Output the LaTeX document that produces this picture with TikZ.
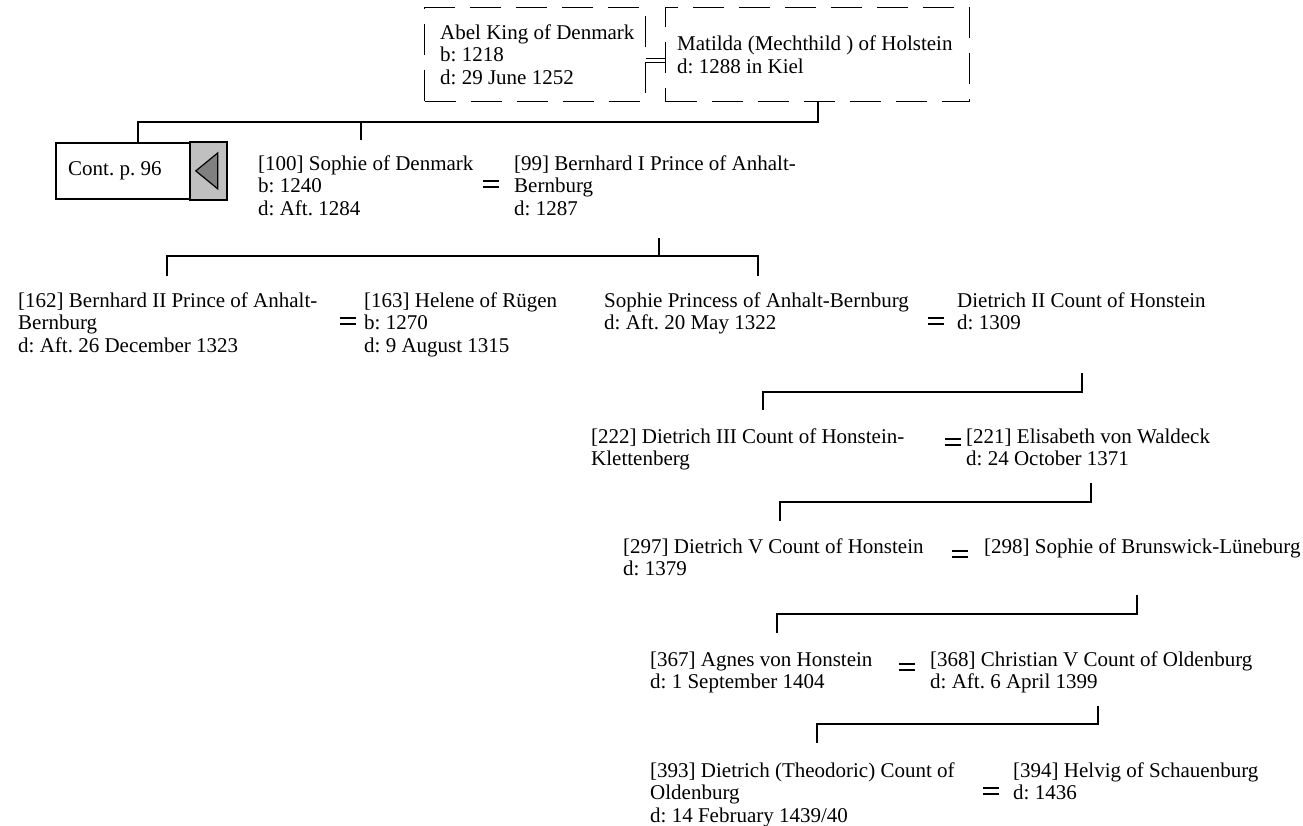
\documentclass[tikz,border=0pt]{standalone}
\usepackage{fontspec}
\setmainfont{Liberation Serif}
\begin{document}
\frenchspacing
\begin{tikzpicture}[x=1pt,y=-1pt,
  every node/.style={font=\fontsize{21}{22.5}\selectfont\frenchspacing, inner sep=0pt},
  person/.style={anchor=north west, align=left},
  txt/.style={anchor=west, align=left},
  dbox/.style={draw, line width=1.3pt, dash pattern=on 31pt off 15pt, anchor=north west},
  link/.style={line width=1.6pt},
  eq/.style={line width=1.4pt},
  marr/.pic={\draw[eq] (-8,-3) -- (8,-3) (-8,3) -- (8,3);}]
\useasboundingbox (0,0) rectangle (1303,825);

% top couple
\node[dbox, minimum width=221pt, minimum height=94pt] (abel) at (424,7) {};
\node[txt] (abelt) at ([xshift=16pt]abel.west) {Abel King of Denmark\\b: 1218\\d: 29 June 1252};
\node[dbox, minimum width=304pt, minimum height=94pt] (mat) at (665,7) {};
\node[txt] (matt) at ([xshift=12pt]mat.west) {Matilda (Mechthild ) of Holstein\\d: 1288 in Kiel};
\draw[line width=1pt] ([yshift=-4pt]abel.east) -- ([yshift=-4pt]mat.west);
\draw[line width=1pt] ([yshift=-8pt]abel.east) -- ([yshift=-8pt]mat.west);

% continuation box
\node[draw, line width=1.8pt, fill=white, anchor=north west, minimum width=170pt, minimum height=56pt] (cont) at (55,142) {};
\node[txt] (contt) at ([xshift=13pt]cont.west) {Cont. p. 96};
\draw[line width=1.8pt, fill={rgb,255:red,192;green,192;blue,192}] ([xshift=-37pt]cont.north east) rectangle (cont.south east);
\draw[line width=1.2pt, fill={rgb,255:red,128;green,128;blue,128}] ([xshift=-31pt]cont.east) -- ([xshift=-9pt,yshift=18pt]cont.east) -- ([xshift=-9pt,yshift=-18pt]cont.east) -- cycle;

% generation 2
\node[person] (p100) at (258,154.25) {\strut[100] Sophie of Denmark\\b: 1240\\d: Aft. 1284};
\node[person] (p99) at (514,154.25) {\strut[99] Bernhard I Prince of Anhalt-\\Bernburg\\d: 1287};
\pic at (491,184) {marr};

% generation 3
\node[person] (p162) at (18,291.25) {\strut[162] Bernhard II Prince of Anhalt-\\Bernburg\\d: Aft. 26 December 1323};
\node[person] (p163) at (364,291.25) {\strut[163] Helene of Rügen\\b: 1270\\d: 9 August 1315};
\pic at (348,321) {marr};
\node[person] (spab) at (604,291.25) {\strut Sophie Princess of Anhalt-Bernburg\\d: Aft. 20 May 1322};
\node[person] (d2) at (957,291.25) {\strut Dietrich II Count of Honstein\\d: 1309};
\pic at (936,321) {marr};

% generation 4
\node[person] (p222) at (591,427.25) {\strut[222] Dietrich III Count of Honstein-\\Klettenberg};
\node[person] (p221) at (966,427.25) {\strut[221] Elisabeth von Waldeck\\d: 24 October 1371};
\pic at (953,442) {marr};

% generation 5
\node[person] (p297) at (623,537.25) {\strut[297] Dietrich V Count of Honstein\\d: 1379};
\node[person] (p298) at (984,537.25) {\strut[298] Sophie of Brunswick-Lüneburg};
\pic at (960,554) {marr};

% generation 6
\node[person] (p367) at (650,650.25) {\strut[367] Agnes von Honstein\\d: 1 September 1404};
\node[person] (p368) at (930,650.25) {\strut[368] Christian V Count of Oldenburg\\d: Aft. 6 April 1399};
\pic at (907,667) {marr};

% generation 7
\node[person] (p393) at (650,761.25) {\strut[393] Dietrich (Theodoric) Count of\\Oldenburg\\d: 14 February 1439/40};
\node[person] (p394) at (1013,761.25) {\strut[394] Helvig of Schauenburg\\d: 1436};
\pic at (991,791) {marr};

% connectors
\coordinate (a1) at (818,122);
\coordinate (a2) at (138,122);
\coordinate (a3) at (361,122);
\draw[link] (mat.south -| a1) -- (a1) -- (a2) -- (cont.north -| a2);
\draw[link] (a3) -- (361,140);

\coordinate (b0) at (659,238);
\coordinate (b1) at (659,256);
\coordinate (b2) at (167,256);
\coordinate (b3) at (758,256);
\draw[link] (b0) -- (b1);
\draw[link] (167,276) -- (b2) -- (b3) -- (758,276);

\coordinate (c0) at (1082,373);
\coordinate (c1) at (763,392);
\draw[link] (c0) |- (c1) -- (763,410);

\coordinate (e0) at (1091,483);
\coordinate (e1) at (780,502);
\draw[link] (e0) |- (e1) -- (780,521);

\coordinate (f0) at (1137,595);
\coordinate (f1) at (777,614);
\draw[link] (f0) |- (f1) -- (777,633);

\coordinate (g0) at (1098,706);
\coordinate (g1) at (817,724);
\draw[link] (g0) |- (g1) -- (817,743);
\end{tikzpicture}
\end{document}
